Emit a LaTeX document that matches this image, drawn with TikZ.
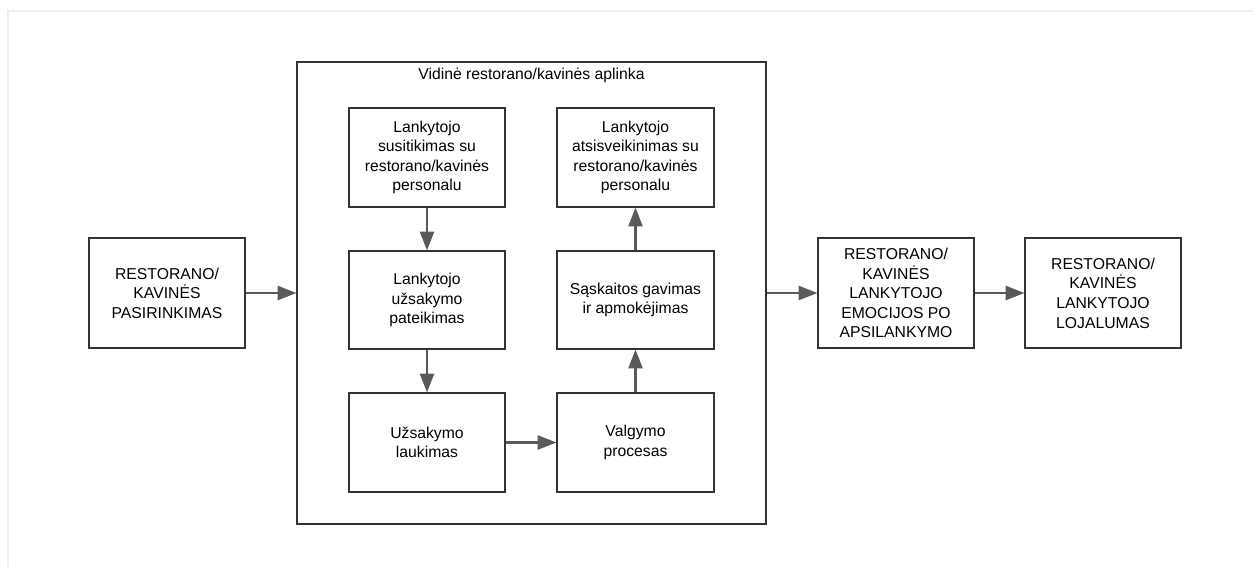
\documentclass[tikz,border=0pt]{standalone}
\usepackage{fontspec}
\setmainfont{Liberation Sans}
\usetikzlibrary{arrows.meta}
\definecolor{boxline}{HTML}{333333}
\definecolor{arrline}{HTML}{5A5A5A}
\definecolor{pageline}{HTML}{EEEEEE}
\begin{document}
\begin{tikzpicture}[x=0.75pt,y=-0.75pt,
  box/.style={draw=boxline,line width=0.9pt,rectangle,align=center,inner sep=2pt,
    font=\fontsize{11.8}{14.7}\selectfont,text=black},
  arr/.style={draw=arrline,line width=1.6pt,-{Triangle[length=14pt,width=10.5pt]}}]
\useasboundingbox (0,0) rectangle (1253,567);
\draw[pageline,line width=1pt] (8,567) -- (8,11) -- (1253,11);
% outer container
\node[box,minimum width=351.75pt,minimum height=346.5pt] (outer) at (531.5,293) {};
\node[font=\fontsize{11.8}{14.7}\selectfont,anchor=center] (title) at (531.5,75) {Vidinė restorano/kavinės aplinka};
% left box
\node[box,minimum width=117pt,minimum height=82.5pt] (sel) at (167,293) {RESTORANO/\\KAVINĖS\\PASIRINKIMAS};
% inner boxes
\node[box,minimum width=117pt,minimum height=74.25pt] (a1) at (427,157.5) {Lankytojo\\susitikimas su\\restorano/kavinės\\personalu};
\node[box,minimum width=117pt,minimum height=73.5pt] (a2) at (427,300) {Lankytojo\\užsakymo\\pateikimas};
\node[box,minimum width=117pt,minimum height=74.25pt] (a3) at (427,442.5) {Užsakymo\\laukimas};
\node[box,minimum width=117.75pt,minimum height=74.25pt] (b1) at (635.5,157.5) {Lankytojo\\atsisveikinimas su\\restorano/kavinės\\personalu};
\node[box,minimum width=117.75pt,minimum height=73.5pt] (b2) at (635.5,300) {Sąskaitos gavimas\\ir apmokėjimas};
\node[box,minimum width=117.75pt,minimum height=74.25pt] (b3) at (635.5,442.5) {Valgymo\\procesas};
% right boxes
\node[box,minimum width=117pt,minimum height=82.5pt] (em) at (896,293) {RESTORANO/\\KAVINĖS\\LANKYTOJO\\EMOCIJOS PO\\APSILANKYMO};
\node[box,minimum width=117pt,minimum height=82.5pt] (loy) at (1103,293) {RESTORANO/\\KAVINĖS\\LANKYTOJO\\LOJALUMAS};
% connectors
\draw[arr] (sel.east) -- (outer.west);
\draw[arr] (outer.east) -- (em.west);
\draw[arr] (em.east) -- (loy.west);
\draw[arr] (a1.south) -- (a2.north);
\draw[arr] (a2.south) -- (a3.north);
\draw[arr] (a3.east) -- (b3.west);
\draw[arr] (b3.north) -- (b2.south);
\draw[arr] (b2.north) -- (b1.south);
\end{tikzpicture}
\end{document}
